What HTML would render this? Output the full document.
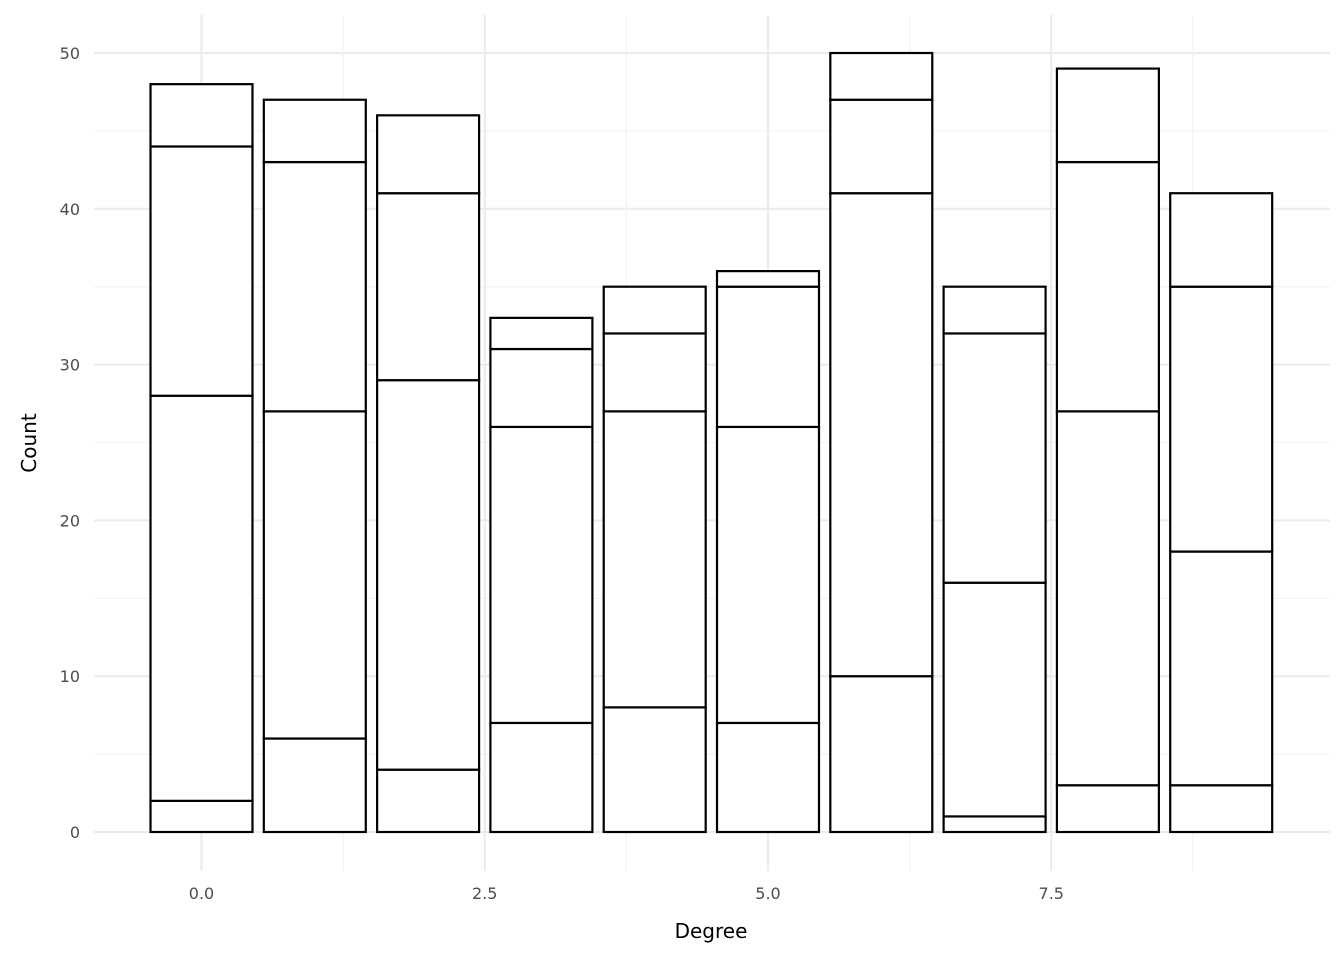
<!DOCTYPE html>
<html><head><meta charset="utf-8"><style>
html,body{margin:0;padding:0;background:#fff;}
svg{display:block;font-family:"DejaVu Sans","Liberation Sans",sans-serif;}
</style></head><body>
<svg id="chart" width="1344" height="960" xmlns="http://www.w3.org/2000/svg">
<g id="grid"></g>
<g id="bars"></g>
<g id="axes"></g>
<text x="711" y="938" font-size="20" text-anchor="middle" fill="#000">Degree</text>
<text transform="translate(36,443) rotate(-90)" font-size="20" text-anchor="middle" fill="#000">Count</text>
</svg>
<script>
const categories = [0,1,2,3,4,5,6,7,8,9];
const seriesA = [2,6,4,7,8,7,10,1,3,3];
const seriesB = [26,21,25,19,19,19,31,15,24,15];
const seriesC = [16,16,12,5,5,9,6,16,16,17];
const seriesD = [4,4,5,2,3,1,3,3,6,6];
const xTicks = [0,2.5,5,7.5];
const xTickLabels = ["0.0","2.5","5.0","7.5"];
const yTicks = [0,10,20,30,40,50];
const yTickLabels = ["0","10","20","30","40","50"];

const NS="http://www.w3.org/2000/svg";
const pLeft=94,pRight=1330,pTop=15,pBottom=871;
const xs=v=>201.5+v*113.3;
const ys=v=>832-v*15.58;
function mk(tag,attrs,parent){const e=document.createElementNS(NS,tag);for(const k in attrs)e.setAttribute(k,attrs[k]);parent.appendChild(e);return e;}
const gridG=document.getElementById('grid'),barsG=document.getElementById('bars'),axesG=document.getElementById('axes');
for(let i=0;i<yTicks.length;i++){
  const v=yTicks[i];
  const l=mk('line',{x1:pLeft,x2:pRight,y1:ys(v),y2:ys(v),stroke:'#ebebeb','stroke-width':2},gridG);
  
  
  if(i<yTicks.length-1){
    const m=mk('line',{x1:pLeft,x2:pRight,y1:ys(v+5),y2:ys(v+5),stroke:'#f3f3f3','stroke-width':1.2},gridG);
    
    
  }
  const t=mk('text',{x:80,y:ys(v)+6,'font-size':16,'text-anchor':'end',fill:'#4d4d4d'},axesG);
  t.textContent=yTickLabels[i];
  
  
}
for(let i=0;i<xTicks.length;i++){
  const v=xTicks[i];
  const l=mk('line',{x1:xs(v),x2:xs(v),y1:pTop,y2:pBottom,stroke:'#ebebeb','stroke-width':2},gridG);
  
  
  const m=mk('line',{x1:xs(v+1.25),x2:xs(v+1.25),y1:pTop,y2:pBottom,stroke:'#f3f3f3','stroke-width':1.2},gridG);
  
  
  const t=mk('text',{x:xs(v),y:899,'font-size':16,'text-anchor':'middle',fill:'#4d4d4d'},axesG);
  t.textContent=xTickLabels[i];
  
  
}
const seriesList=[seriesA,seriesB,seriesC,seriesD];
const bw=0.9*113.3;
categories.forEach((c,i)=>{
  let cum=0;
  seriesList.forEach((s,j)=>{
    const y0=ys(cum),y1=ys(cum+s[i]);
    const r=mk('rect',{x:xs(c)-bw/2,y:y1,width:bw,height:y0-y1,fill:'#fff',stroke:'#000','stroke-width':2.2},barsG);
    
    
    cum+=s[i];
  });
});
</script>
</body></html>
